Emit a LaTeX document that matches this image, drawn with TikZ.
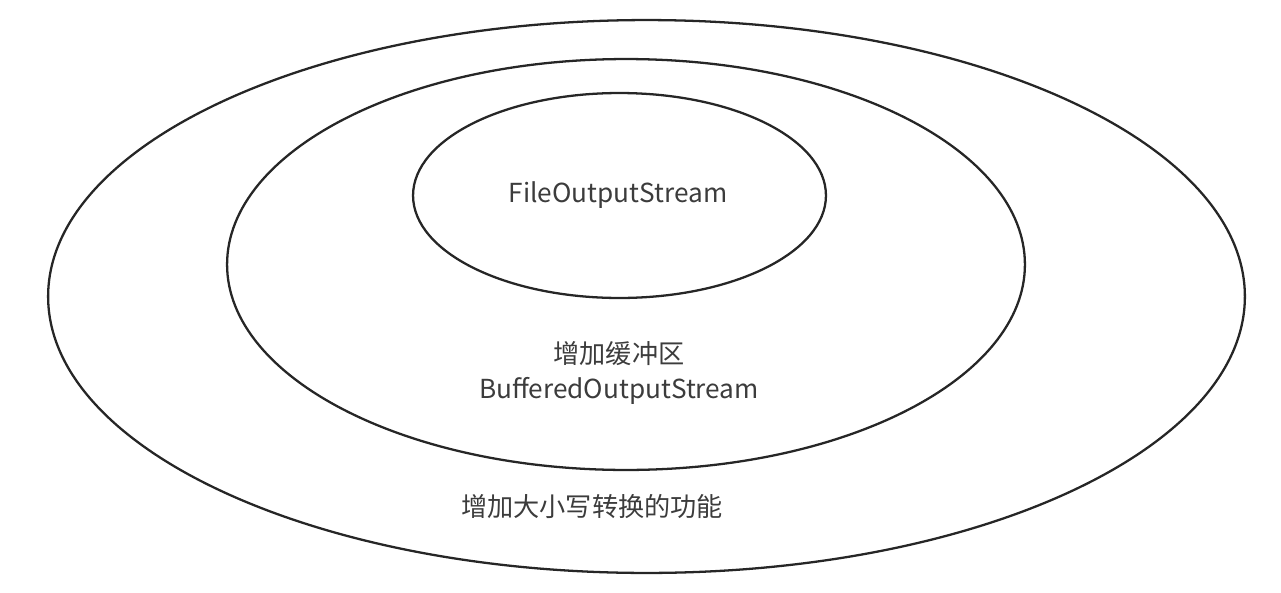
\documentclass[tikz,border=0pt]{standalone}
\usepackage{fontspec}
\setmainfont{Noto Sans CJK SC}
\usepackage{xcolor}
\usepackage{tikz}
\usetikzlibrary{shapes.geometric}
\definecolor{inkgray}{HTML}{3C3C3C}
\tikzset{ring/.style={draw=black!85, ellipse, line width=1.3pt, inner sep=0pt}}
\tikzset{txt/.style={text=inkgray, font=\fontsize{14.9pt}{19.5pt}\selectfont, align=center}}

\begin{document}
\begin{tikzpicture}[x=0.02cm, y=-0.02cm]
    \useasboundingbox (0,0) rectangle (1281,592);
    \node [ring, minimum width=23.94cm, minimum height=11.06cm] (outer) at (646.5,296.5) {};
    \node [ring, minimum width=15.96cm, minimum height=8.22cm] (middle) at (626,264.5) {};
    \node [ring, minimum width=8.26cm, minimum height=4.1cm] (inner) at (619.5,195.5) {};

    \node [txt] (file) at (618,195) {FileOutputStream};
    \node [txt] (buffer) at (619,373) {增加缓冲区\\BufferedOutputStream};
    \node [txt] (upper) at (592,507) {增加大小写转换的功能};
  \end{tikzpicture}
\end{document}
